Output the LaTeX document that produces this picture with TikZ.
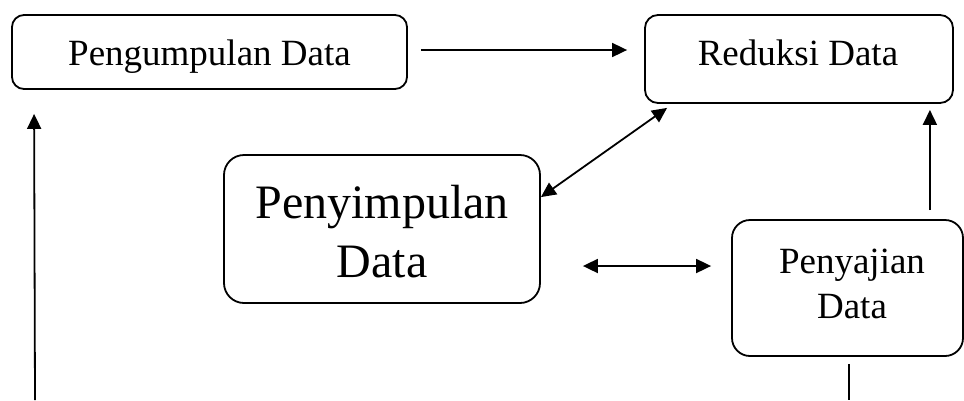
\documentclass[tikz,border=0pt]{standalone}
\usepackage{fontspec}
\setmainfont{Liberation Serif}
\usetikzlibrary{arrows.meta,calc}
\tikzset{
  box/.style={draw, line width=1.8pt, rounded corners=#1, inner sep=0pt, anchor=center},
  box/.default=13pt,
  lbl/.style={inner sep=0pt, anchor=base, font=\fontsize{37}{44}\selectfont},
  biglbl/.style={inner sep=0pt, anchor=base, font=\fontsize{48}{58}\selectfont},
  conn/.style={line width=1.8pt},
  arr/.style={conn, -{Triangle[length=15pt,width=14pt]}},
  arrtwo/.style={conn, {Triangle[length=15pt,width=14pt]}-{Triangle[length=15pt,width=14pt]}},
}
\begin{document}
\begin{tikzpicture}[x=1pt,y=-1pt]
\useasboundingbox (0,0) rectangle (964,400);
% boxes
\node[box=12pt, minimum width=395pt, minimum height=74pt] (A) at (209.5,52) {};
\node[box=13pt, minimum width=308pt, minimum height=88pt] (B) at (799,59) {};
\node[box=20pt, minimum width=316pt, minimum height=148pt] (C) at (382,229) {};
\node[box=18pt, minimum width=231pt, minimum height=136pt] (D) at (847.5,288) {};
% texts
\node[lbl] (tA) at (209.5,65) {Pengumpulan Data};
\node[lbl] (tB) at (798,65) {Reduksi Data};
\node[biglbl] (tC1) at (382,218) {Penyimpulan};
\node[biglbl] (tC2) at (382,277) {Data};
\node[lbl] (tD1) at (852,273) {Penyajian};
\node[lbl] (tD2) at (852,318) {Data};
% free ends
\coordinate (lb) at (35,400);
\coordinate (db) at (849,400);
% connectors
\draw[arr] ($(A.east)+(13,-2)$) -- ($(B.west)+(-17,-9)$);
\draw[arr] (lb) -- ($(A.south west)+(23,24)$);
\draw[arrtwo] ($(C.north east)+(0,43)$) -- ($(B.south west)+(23,4)$);
\draw[arrtwo] ($(C.east)+(42,37)$) -- ($(D.west)+(-20,-22)$);
\draw[arr] ($(D.north east)+(-34,-9)$) -- ($(B.south east)+(-24,6)$);
\draw[conn] ($(D.south)+(1.5,7)$) -- (db);
\end{tikzpicture}
\end{document}
